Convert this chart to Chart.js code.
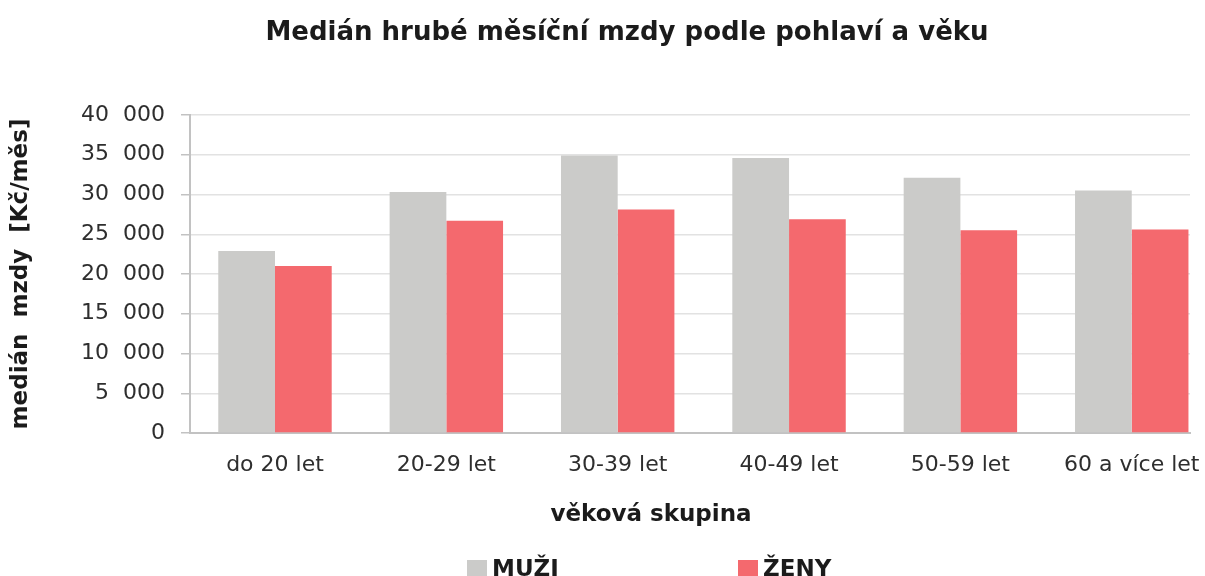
<!DOCTYPE html>
<html>
<head>
<meta charset="utf-8">
<script src="https://cdn.jsdelivr.net/npm/chart.js@4.4.0/dist/chart.umd.min.js"></script>
<style>body{margin:0;background:#fff}</style>
</head>
<body>
<canvas id="myChart" width="1205" height="576"></canvas>
<script>
var categories = ['do 20 let', '20-29 let', '30-39 let', '40-49 let', '50-59 let', '60 a více let'];
var menValues = [22900, 30300, 34900, 34600, 32100, 30500];
var womenValues = [21000, 26700, 28100, 26900, 25500, 25600];
var seriesNames = ['MUŽI', 'ŽENY'];
var seriesColors = ['#cbcbc9', '#f4696e'];
var yTickLabels = ['0', '5  000', '10  000', '15  000', '20  000', '25  000', '30  000', '35  000', '40  000'];
var chartTitle = 'Medián hrubé měsíční mzdy podle pohlaví a věku';
var xTitle = 'věková skupina';
var yTitle = 'medián  mzdy  [Kč/měs]';

var FONT = '"DejaVu Sans", sans-serif';

// titles and legend are drawn by hand so they sit where the original has them
var textPlugin = {
    id: 'texts',
    afterDraw: function(chart) {
        var ctx = chart.ctx;
        ctx.save();
        ctx.fillStyle = '#1b1b1b';
        ctx.textBaseline = 'alphabetic';
        ctx.textAlign = 'center';
        ctx.font = 'bold 26px ' + FONT;
        ctx.fillText(chartTitle, 627, 40);
        ctx.font = 'bold 23px ' + FONT;
        ctx.fillText(xTitle, 651, 521);

        // legend
        var boxX = [467, 738];
        ctx.textAlign = 'left';
        ctx.font = 'bold 23px ' + FONT;
        chart.data.datasets.forEach(function(ds, i) {
            ctx.fillStyle = ds.backgroundColor;
            ctx.fillRect(boxX[i], 560, 20, 20);
            ctx.fillStyle = '#1b1b1b';
            ctx.fillText(ds.label, boxX[i] + 25, 576);
        });
        ctx.restore();
    }
};

var ctx = document.getElementById('myChart').getContext('2d');
var chart = new Chart(ctx, {
    type: 'bar',
    data: {
        datasets: [{
            label: seriesNames[0],
            data: menValues.map(function(v, i) { return {x: i, y: v}; }),
            backgroundColor: seriesColors[0]
        }, {
            label: seriesNames[1],
            data: womenValues.map(function(v, i) { return {x: i, y: v}; }),
            backgroundColor: seriesColors[1]
        }]
    },
    options: {
        responsive: false,
        animation: false,
        categoryPercentage: 0.662,
        barPercentage: 1.0,
        layout: {padding: {top: 115, left: 0, right: 15, bottom: 0}},
        plugins: {
            legend: {display: false},
            tooltip: {enabled: false}
        },
        scales: {
            x: {
                type: 'linear',
                offset: false,
                min: -0.496,
                max: 5.34,
                afterFit: function(scale) {
                    scale.height = 143;
                    scale.paddingLeft = 0;
                    scale.paddingRight = 0;
                },
                afterBuildTicks: function(scale) {
                    scale.ticks = categories.map(function(c, i) { return {value: i}; });
                },
                grid: {display: false},
                border: {display: true, color: '#c2c2c2', width: 2},
                ticks: {
                    padding: 11,
                    color: '#2e2e2e',
                    font: {family: FONT, size: 22},
                    maxRotation: 0,
                    callback: function(value) { return categories[value]; }
                }
            },
            y: {
                min: 0,
                max: 40000,
                afterFit: function(scale) { scale.width = 190; },
                ticks: {
                    stepSize: 5000,
                    padding: 16,
                    color: '#2e2e2e',
                    font: {family: FONT, size: 22},
                    callback: function(value, index) { return yTickLabels[index]; }
                },
                grid: {color: '#e2e2e2', lineWidth: 1.5, tickLength: 9, tickColor: '#c2c2c2'},
                border: {display: true, color: '#c2c2c2', width: 2},
                title: {
                    display: true,
                    text: yTitle,
                    color: '#1b1b1b',
                    font: {family: FONT, size: 23, weight: 'bold'},
                    padding: {top: 7, bottom: 0}
                }
            }
        }
    },
    plugins: [textPlugin]
});
</script>
</body>
</html>
